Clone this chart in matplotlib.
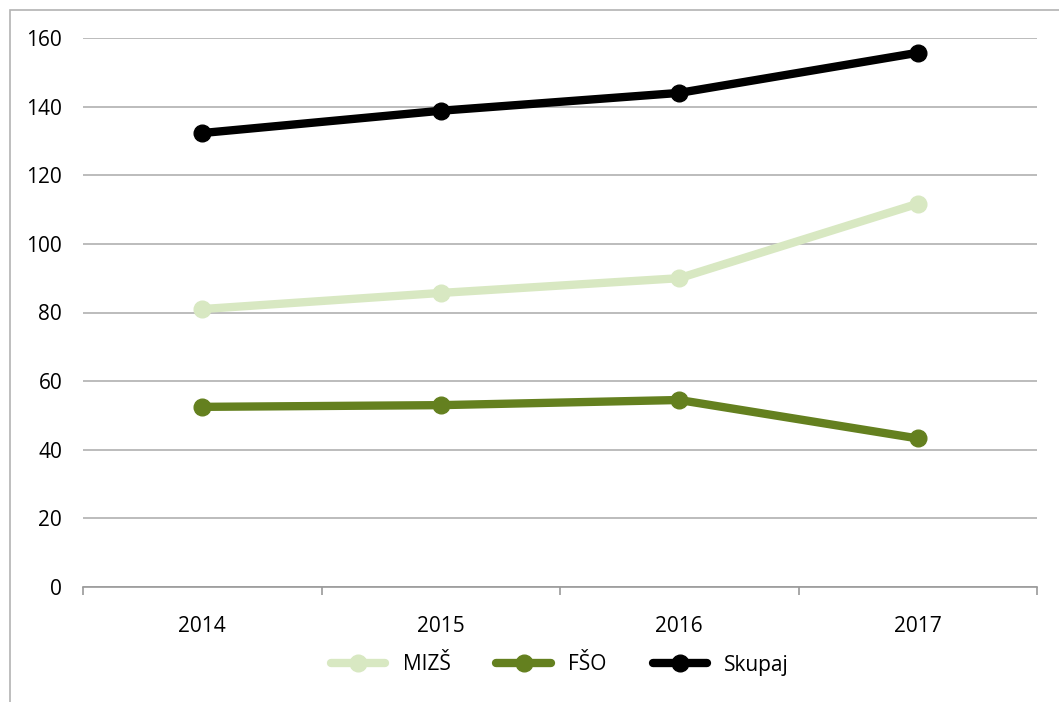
import matplotlib.pyplot as plt
import matplotlib.patches as patches
import numpy as np

years = ["2014", "2015", "2016", "2017"]
mizs = [81.0, 85.7, 90.0, 111.7]
fso = [52.5, 53.0, 54.5, 43.3]
skupaj = [132.3, 138.8, 144.0, 155.7]

plt.rcParams['font.family'] = ['Open Sans', 'DejaVu Sans']

fig = plt.figure(figsize=(10.59, 7.02), dpi=100)
ax = fig.add_axes([83/1059, 1-587/702, (1037-83)/1059, (587-38)/702])

# chart frame
fig.patches.append(patches.Rectangle((10/1059, -0.1), 1.2, 1-10/702+0.1,
                                     transform=fig.transFigure, fill=False,
                                     edgecolor="#b3b3b3", linewidth=1.2))

x = np.arange(len(years))
ax.plot(x, mizs, color="#d8e8c2", linewidth=6, marker="o", markersize=12,
        solid_capstyle="round", label="MIZŠ", zorder=3)
ax.plot(x, fso, color="#64801f", linewidth=6, marker="o", markersize=12,
        solid_capstyle="round", label="FŠO", zorder=3)
ax.plot(x, skupaj, color="black", linewidth=6, marker="o", markersize=12,
        solid_capstyle="round", label="Skupaj", zorder=3)

ax.set_xlim(-0.5, 3.5)
ax.set_ylim(0, 160)
ax.set_yticks(np.arange(0, 161, 20))
ax.set_xticks(x)
ax.set_xticklabels(years)
ax.set_xticks(np.arange(-0.5, 3.6, 1), minor=True)

ax.grid(axis="y", color="#b0b0b0", linewidth=1.2)
ax.set_axisbelow(True)
for s in ["top", "right", "left"]:
    ax.spines[s].set_visible(False)
ax.spines["bottom"].set_color("#9a9a9a")
ax.spines["bottom"].set_linewidth(1.2)

ax.tick_params(axis="y", length=0, pad=15, labelsize=15)
ax.tick_params(axis="x", which="major", length=0, pad=21, labelsize=15)
ax.tick_params(axis="x", which="minor", length=6, color="#9a9a9a", width=1.2)

ax.legend(loc="center", bbox_to_anchor=(0.5, (665-587)/-549), ncol=3,
          frameon=False, fontsize=15, handlelength=2.6, columnspacing=2.2,
          handletextpad=0.85)

fig.savefig("out.png", dpi=100)
